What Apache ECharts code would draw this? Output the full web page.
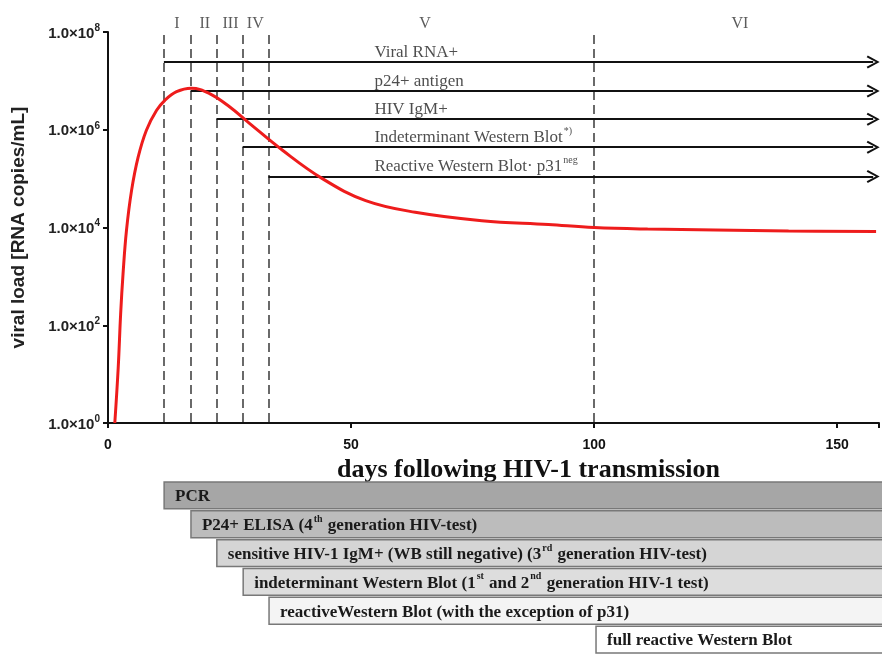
<!DOCTYPE html>
<html>
<head>
<meta charset="utf-8">
<script src="https://cdn.jsdelivr.net/npm/echarts@6/dist/echarts.min.js"></script>
<style>
html,body{margin:0;padding:0;background:#fff;}
#chart{width:882px;height:654px;}
</style>
</head>
<body>
<div id="chart"></div>
<script>
// ---- data ----
const curveDays = [1.4, 2.1, 2.6, 3.1, 3.8, 4.85, 6.2, 7.9, 10, 11.7, 14.1, 17.1, 20.9, 25, 29.1, 35.9, 44.1, 53, 63.2, 76.9, 90.6, 100, 111, 125, 140, 158];
const curveLoad = [1, 13.5, 170, 1150, 8700, 57500, 275000, 980000, 2.5e6, 4.0e6, 6.0e6, 7.1e6, 5.5e6, 2.95e6, 1.35e6, 3.8e5, 1.0e5, 3.55e4, 2.05e4, 1.38e4, 1.15e4, 1.0e4, 9300, 8900, 8500, 8300];

const phaseDays = [11.5, 17, 22.3, 27.7, 33, 100];
const phaseNames = ['I', 'II', 'III', 'IV', 'V', 'VI'];
const phaseLabelDays = [14.2, 19.9, 25.2, 30.3, 65.2, 130];

const markerNames = ['Viral RNA+', 'p24+ antigen', 'HIV IgM+', 'Indeterminant Western Blot{sup|*)}', 'Reactive Western Blot· p31{sup|neg}'];
const markerStart = [11.5, 17, 22.3, 27.7, 33];
const markerLevel = [2.43e7, 6.2e6, 1.64e6, 4.4e5, 1.11e5];
const markerLabelDay = 54.8;
const arrowEndDay = 157.4;

const testNames = [
  'PCR',
  'P24+ ELISA (4{sup|th} generation HIV-test)',
  'sensitive HIV-1 IgM+ (WB still negative) (3{sup|rd} generation HIV-test)',
  'indeterminant Western Blot (1{sup|st} and 2{sup|nd} generation HIV-1 test)',
  'reactiveWestern Blot (with the exception of p31)',
  'full reactive Western Blot'
];
const testStart = [11.5, 17, 22.3, 27.7, 33, 100];

const yTicks = [1, 1e2, 1e4, 1e6, 1e8];
const xMax = 158.6;

// ---- styles ----
const testFills = ['#a6a6a6', '#bcbcbc', '#d5d5d5', '#dddddd', '#f4f4f4', '#ffffff'];
const serif = '"Liberation Serif", "Times New Roman", serif';
const sans = '"Liberation Sans", Arial, sans-serif';
const chevron = 'path://M0,11 L6,0 L12,11 L10.4,12 L6,3.6 L1.6,12 Z';

function toRich(s) {
  return '{t|' + s.replace(/\{sup\|([^}]*)\}/g, '}{sup|$1}{t|') + '}';
}

const chart = echarts.init(document.getElementById('chart'), null, {renderer: 'canvas'});

const curveData = curveDays.map((d, i) => [d, curveLoad[i]]);

const option = {
  animation: false,
  backgroundColor: '#ffffff',
  grid: [
    {left: 108, right: 0, top: 32, bottom: 231},
    {left: 108, right: 0, top: 481, height: 178}
  ],
  xAxis: [
    {
      type: 'value', gridIndex: 0, min: 0, max: xMax, interval: 50,
      axisLine: {show: true, lineStyle: {color: '#111', width: 2}},
      axisTick: {show: true, length: 5, lineStyle: {color: '#111', width: 2}},
      splitLine: {show: false},
      axisLabel: {
        margin: 15, color: '#111', fontFamily: sans, fontWeight: 'bold', fontSize: 14,
        formatter: v => (v % 50 === 0 ? String(v) : '')
      },
      name: 'days following HIV-1 transmission',
      nameLocation: 'middle',
      nameGap: 30,
      nameTextStyle: {fontFamily: serif, fontWeight: 'bold', fontSize: 26, color: '#111', padding: [0, 0, 0, 70]}
    },
    {type: 'value', gridIndex: 1, min: 0, max: xMax, show: false}
  ],
  yAxis: [
    {
      type: 'log', gridIndex: 0, logBase: 10, min: 1, max: 1e8, interval: 2,
      axisLine: {show: true, lineStyle: {color: '#111', width: 2}},
      axisTick: {show: true, length: 5, lineStyle: {color: '#111', width: 2}},
      splitLine: {show: false},
      axisLabel: {
        margin: 8,
        formatter: v => {
          const e = Math.round(Math.log10(v));
          return '{b|1.0×10}{s|' + e + '}';
        },
        rich: {
          b: {fontFamily: sans, fontWeight: 'bold', fontSize: 15, color: '#222', lineHeight: 18, verticalAlign: 'bottom'},
          s: {fontFamily: sans, fontWeight: 'bold', fontSize: 10, color: '#222', lineHeight: 18, verticalAlign: 'top', padding: [0, 0, 7, 0]}
        }
      },
      name: 'viral load [RNA copies/mL]',
      nameLocation: 'middle',
      nameGap: 80,
      nameRotate: 90,
      nameTextStyle: {fontFamily: sans, fontWeight: 'bold', fontSize: 19, color: '#222'}
    },
    {type: 'category', gridIndex: 1, data: testNames, inverse: true, show: false}
  ],
  series: [
    // phase dashed lines
    {
      type: 'lines', coordinateSystem: 'cartesian2d', xAxisIndex: 0, yAxisIndex: 0,
      silent: true, symbol: ['none', 'none'], z: 2,
      lineStyle: {color: '#444', width: 1.6, type: [9, 5], opacity: 1},
      data: phaseDays.map(d => ({coords: [[d, 8.7e7], [d, 1]]}))
    },
    // phase numerals
    {
      type: 'scatter', xAxisIndex: 0, yAxisIndex: 0, symbolSize: 0, silent: true,
      data: phaseLabelDays.map((d, i) => ({value: [d, 1e8], name: phaseNames[i]})),
      label: {
        show: true, position: [0, -8], align: 'center', verticalAlign: 'middle',
        formatter: p => p.name, fontFamily: serif, fontSize: 16, color: '#333'
      }
    },
    // marker arrows
    {
      type: 'lines', coordinateSystem: 'cartesian2d', xAxisIndex: 0, yAxisIndex: 0,
      silent: true, symbol: ['none', chevron], symbolSize: [12, 13], z: 3,
      lineStyle: {color: '#111', width: 2.2, opacity: 1},
      data: markerStart.map((s, i) => ({coords: [[s, markerLevel[i]], [arrowEndDay, markerLevel[i]]]}))
    },
    // marker texts
    {
      type: 'scatter', xAxisIndex: 0, yAxisIndex: 0, symbolSize: 0, silent: true,
      data: markerLevel.map((v, i) => ({value: [markerLabelDay, v], name: markerNames[i]})),
      label: {
        show: true, position: [0, -11], align: 'left', verticalAlign: 'middle',
        formatter: p => toRich(p.name),
        rich: {
          t: {fontFamily: serif, fontSize: 17, color: '#222', lineHeight: 20, verticalAlign: 'bottom'},
          sup: {fontFamily: serif, fontSize: 10, color: '#222', lineHeight: 20, verticalAlign: 'top', padding: [0, 0, 9, 1]}
        }
      }
    },
    // viral load curve
    {
      type: 'line', xAxisIndex: 0, yAxisIndex: 0, data: curveData, smooth: 0.4,
      showSymbol: false, symbol: 'none', z: 5, clip: true,
      lineStyle: {color: '#ee1c1c', width: 3}
    },
    // diagnostic test boxes
    {
      type: 'custom', xAxisIndex: 1, yAxisIndex: 1, silent: true,
      data: testStart.map((s, i) => [s, i]),
      renderItem: (params, api) => {
        const start = api.value(0);
        const idx = api.value(1);
        const p = api.coord([start, idx]);
        const band = api.size([0, 1])[1];
        const h = band - 2;
        const x0 = p[0];
        const y0 = p[1] - h / 2;
        const w = params.coordSys.x + params.coordSys.width + 20 - x0;
        return {
          type: 'group',
          children: [
            {type: 'rect', shape: {x: x0, y: y0, width: w, height: h},
             style: {fill: testFills[idx], stroke: '#787878', lineWidth: 1.5}},
            {type: 'text', x: x0 + 11, y: p[1],
             style: {
               text: toRich(testNames[idx]), verticalAlign: 'middle', align: 'left',
               rich: {
                 t: {fontFamily: serif, fontWeight: 'bold', fontSize: 17, fill: '#1a1a1a', lineHeight: 20, verticalAlign: 'bottom'},
                 sup: {fontFamily: serif, fontWeight: 'bold', fontSize: 10, fill: '#1a1a1a', lineHeight: 20, verticalAlign: 'top', padding: [0, 1, 9, 1]}
               }
             }}
          ]
        };
      }
    }
  ]
};
chart.setOption(option);
</script>
</body>
</html>
